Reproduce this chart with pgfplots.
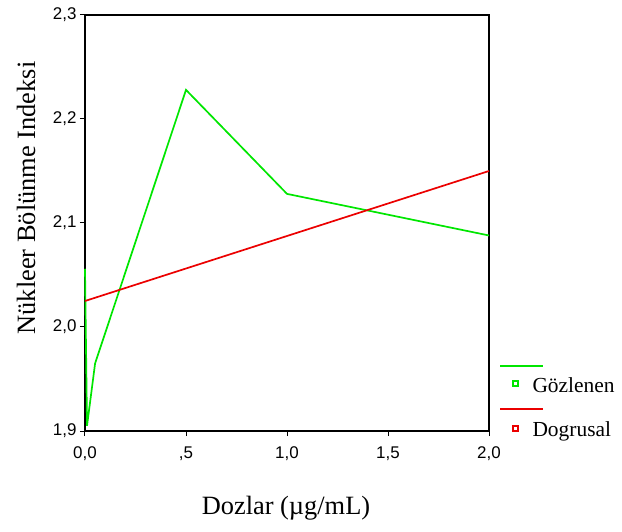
\documentclass[border=0pt]{standalone}
\usepackage{fontspec}
\setmainfont{Liberation Serif}
\newfontfamily\arial{Liberation Sans}
\usepackage{pgfplots}
\pgfplotsset{compat=1.18}
\definecolor{obsgreen}{RGB}{0,230,0}
\definecolor{fitred}{RGB}{235,0,0}
\begin{document}
\begin{tikzpicture}
\begin{axis}[
    scale only axis,
    width=404bp, height=416bp,
    xmin=0, xmax=2, ymin=1.9, ymax=2.3,
    axis line style={line width=1.6bp},
    xtick={0,0.5,1,1.5,2},
    xticklabels={0{,}0,{,}5,1{,}0,1{,}5,2{,}0},
    ytick={1.9,2.0,2.1,2.2,2.3},
    yticklabels={1{,}9,2{,}0,2{,}1,2{,}2,2{,}3},
    tick align=outside,
    tick pos=left,
    major tick length=5bp,
    tick style={line width=1bp, black},
    tick label style={font=\arial\fontsize{17}{19}\selectfont},
    xticklabel style={yshift=-7bp},
    clip=false,
]
    % observed
    \addplot[obsgreen, line width=1.7bp] coordinates {
        (0,2.056) (0.01,1.905) (0.05,1.965) (0.5,2.228) (1.0,2.128) (2.0,2.088)
    };
    % linear fit
    \addplot[fitred, line width=1.7bp] coordinates {
        (0,2.025) (2.0,2.150)
    };
    \coordinate (ll) at (rel axis cs:0,0);
\end{axis}
\path (ll) ++(-85bp,-101bp) rectangle ++(622bp,532bp);
% axis labels
\node[font=\fontsize{26.5}{30}\selectfont] at ([shift={(201bp,-77bp)}]ll) {Dozlar (µg/mL)};
\node[font=\fontsize{26.5}{30}\selectfont, rotate=90] at ([shift={(-59bp,233bp)}]ll) {Nükleer Bölünme Indeksi};
% legend
\draw[obsgreen, line width=1.7bp] ([shift={(415bp,65bp)}]ll) -- ++(43bp,0);
\draw[obsgreen, line width=1.3bp] ([shift={(428bp,45bp)}]ll) rectangle ++(5bp,5bp);
\node[anchor=west, font=\fontsize{21.5}{24}\selectfont] at ([shift={(444bp,46bp)}]ll) {Gözlenen};
\draw[fitred, line width=1.7bp] ([shift={(415bp,22bp)}]ll) -- ++(43bp,0);
\draw[fitred, line width=1.3bp] ([shift={(428bp,0bp)}]ll) rectangle ++(5bp,5bp);
\node[anchor=west, font=\fontsize{21.5}{24}\selectfont] at ([shift={(444bp,0bp)}]ll) {Dogrusal};
\end{tikzpicture}
\end{document}
